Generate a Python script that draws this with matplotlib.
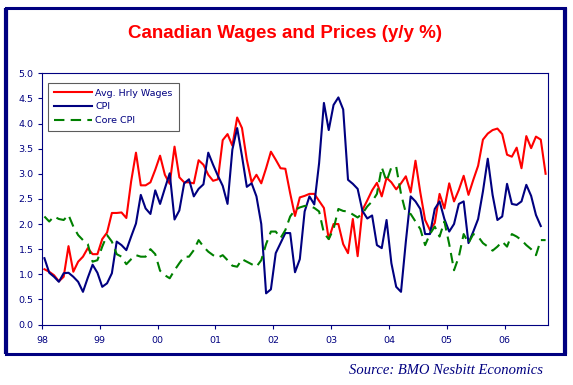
import numpy as np
import matplotlib
matplotlib.use("Agg")
import matplotlib.pyplot as plt
from matplotlib.patches import Rectangle

NAVY, RED, GREEN = "#000080", "#FF0000", "#008000"

# monthly y/y %, Jan 1998 onward
wages = [1.10, 1.05, 0.98, 0.86, 0.95, 1.56, 1.05, 1.25, 1.35, 1.52, 1.40, 1.40,
         1.70, 1.83, 2.22, 2.22, 2.23, 2.12, 2.85, 3.42, 2.77, 2.77, 2.83, 3.08,
         3.36, 2.98, 2.80, 3.54, 2.93, 2.83, 2.83, 2.81, 3.27, 3.18, 2.98, 2.86,
         2.89, 3.67, 3.79, 3.56, 4.12, 3.91, 3.28, 2.83, 2.98, 2.81, 3.11, 3.44,
         3.28, 3.11, 3.10, 2.61, 2.16, 2.53, 2.56, 2.60, 2.60, 2.46, 2.32, 1.70,
         2.00, 2.00, 1.60, 1.42, 2.10, 1.36, 2.28, 2.47, 2.67, 2.82, 2.55, 2.92,
         2.83, 2.69, 2.81, 2.95, 2.63, 3.26, 2.63, 2.08, 1.88, 2.02, 2.60, 2.31,
         2.81, 2.45, 2.68, 2.96, 2.58, 2.88, 3.16, 3.68, 3.80, 3.87, 3.90, 3.79,
         3.38, 3.34, 3.52, 3.11, 3.75, 3.51, 3.74, 3.68, 3.00]
cpi = [1.32, 1.03, 0.95, 0.85, 1.02, 1.03, 0.95, 0.85, 0.65, 0.93, 1.19, 1.03,
       0.75, 0.82, 1.02, 1.65, 1.58, 1.48, 1.75, 2.01, 2.58, 2.31, 2.20, 2.67,
       2.40, 2.71, 3.01, 2.09, 2.27, 2.81, 2.89, 2.55, 2.70, 2.79, 3.42, 3.18,
       2.96, 2.76, 2.40, 3.48, 3.91, 3.35, 2.74, 2.81, 2.55, 2.00, 0.62, 0.70,
       1.42, 1.62, 1.82, 1.82, 1.04, 1.30, 2.25, 2.55, 2.39, 3.21, 4.41, 3.87,
       4.37, 4.52, 4.28, 2.88, 2.80, 2.70, 2.26, 2.11, 2.17, 1.58, 1.52, 2.08,
       1.22, 0.75, 0.65, 1.65, 2.55, 2.45, 2.30, 1.80, 1.80, 2.30, 2.45, 2.10,
       1.85, 2.00, 2.40, 2.45, 1.62, 1.85, 2.10, 2.65, 3.30, 2.58, 2.08, 2.15,
       2.80, 2.40, 2.38, 2.45, 2.78, 2.56, 2.18, 1.96]
core = [2.15, 2.05, 2.15, 2.10, 2.08, 2.18, 1.95, 1.78, 1.68, 1.60, 1.25, 1.28,
        1.55, 1.78, 1.65, 1.40, 1.35, 1.20, 1.30, 1.38, 1.35, 1.35, 1.50, 1.40,
        1.07, 0.98, 0.92, 1.08, 1.22, 1.35, 1.35, 1.48, 1.68, 1.55, 1.45, 1.38,
        1.33, 1.38, 1.28, 1.17, 1.15, 1.30, 1.25, 1.20, 1.15, 1.28, 1.60, 1.85,
        1.85, 1.72, 1.88, 2.15, 2.28, 2.33, 2.36, 2.36, 2.32, 2.25, 1.82, 1.70,
        1.90, 2.30, 2.26, 2.25, 2.19, 2.13, 2.21, 2.35, 2.45, 2.60, 3.13, 2.85,
        3.13, 3.14, 2.60, 2.22, 2.20, 2.05, 1.90, 1.58, 1.80, 1.95, 1.75, 2.05,
        1.60, 1.08, 1.35, 1.80, 1.62, 1.80, 1.75, 1.62, 1.55, 1.47, 1.55, 1.65,
        1.55, 1.80, 1.75, 1.68, 1.58, 1.50, 1.38, 1.68, 1.68]
year_labels = ["98", "99", "00", "01", "02", "03", "04", "05", "06"]
n_months = 105

fig = plt.figure(figsize=(5.73, 3.85), dpi=100)
fig.patch.set_facecolor("white")

# outer frame (thicker on the sides, like the original)
y0, y1 = 1 - 354 / 385, 1 - 8 / 385
fig.patches.append(Rectangle((6 / 573, y0), 559 / 573, y1 - y0,
                             transform=fig.transFigure, fill=False,
                             edgecolor=NAVY, lw=2.2, zorder=0))
for xs in (6 / 573, 565 / 573):
    fig.add_artist(plt.Line2D([xs, xs], [y0, y1], transform=fig.transFigure,
                              color=NAVY, lw=3.0, solid_capstyle="butt"))

ax = fig.add_axes([42 / 573, 1 - 324.5 / 385, 506 / 573, 251.2 / 385])
ax.plot(np.arange(len(wages)) + 0.5, wages, color=RED, lw=1.5, label="Avg. Hrly Wages")
ax.plot(np.arange(len(cpi)) + 0.5, cpi, color=NAVY, lw=1.5, label="CPI")
ax.plot(np.arange(len(core)) + 0.5, core, color=GREEN, lw=1.5, dashes=(5, 3), label="Core CPI")

ax.set_xlim(0, n_months)
ax.set_ylim(0, 5)
ax.set_yticks(np.arange(0, 5.01, 0.5))
ax.set_yticklabels([f"{v:.1f}" for v in np.arange(0, 5.01, 0.5)])
ax.set_xticks(np.arange(len(year_labels)) * 12)
ax.set_xticklabels(year_labels)
for s in ax.spines.values():
    s.set_color(NAVY)
    s.set_linewidth(0.8)
ax.tick_params(colors=NAVY, labelsize=6.8, length=3, width=0.8, pad=3)
ax.tick_params(axis="x", pad=5)

leg = ax.legend(loc="upper left", bbox_to_anchor=(0.003, 0.98), fontsize=6.8,
                frameon=True, fancybox=False, handlelength=4.0, borderpad=0.6,
                labelspacing=0.5, handletextpad=0.4)
leg.get_frame().set_edgecolor("#333333")
leg.get_frame().set_linewidth(0.8)
for t in leg.get_texts():
    t.set_color(NAVY)

fig.text(285 / 573, 1 - 33 / 385, "Canadian Wages and Prices (y/y %)", color=RED,
         fontsize=13.5, fontweight="bold", family="Liberation Sans",
         ha="center", va="center")
fig.text(543 / 573, 1 - 371 / 385, "Source: BMO Nesbitt Economics", color=NAVY,
         fontsize=10.5, style="italic", family="Liberation Serif",
         ha="right", va="center")

fig.savefig("out.png", dpi=100)
